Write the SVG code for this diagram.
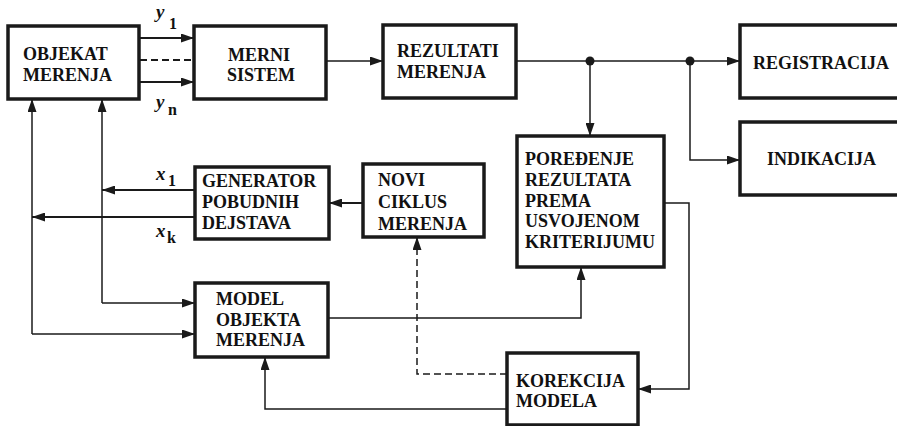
<svg xmlns="http://www.w3.org/2000/svg" width="897" height="426" viewBox="0 0 897 426">
<defs>
<style>
.box{fill:#fff;stroke:#1a1a1a;stroke-width:3.5}
.t{font-family:"Liberation Serif","Times New Roman",serif;font-weight:bold;font-size:18px;fill:#111}
.ln{fill:none;stroke:#1a1a1a;stroke-width:1.5}
.lt{fill:none;stroke:#1a1a1a;stroke-width:2}
.dash{stroke-dasharray:7 4}
.v{font-family:"Liberation Serif","Times New Roman",serif;font-style:italic;font-weight:bold;font-size:19px;fill:#111}
.s{font-family:"Liberation Serif","Times New Roman",serif;font-weight:bold;font-size:16px;fill:#111}
</style>
<marker id="ah" viewBox="0 0 13 9" refX="13" refY="4.5" markerWidth="13" markerHeight="9" markerUnits="userSpaceOnUse" orient="auto">
<path d="M0,0 L13,4.5 L0,9 Z" fill="#1a1a1a"/>
</marker>
</defs>
<rect width="897" height="426" fill="#fff"/>

<g id="connectors">
<line class="lt" x1="139" y1="38" x2="194" y2="38" marker-end="url(#ah)"/>
<line class="lt dash" x1="140" y1="60" x2="194" y2="60"/>
<line class="lt" x1="139" y1="82" x2="194" y2="82" marker-end="url(#ah)"/>
<line class="ln" x1="326" y1="61" x2="383" y2="61" marker-end="url(#ah)"/>
<line class="ln" x1="516" y1="61" x2="740" y2="61" marker-end="url(#ah)"/>
<circle cx="590" cy="61" r="4.5" fill="#1a1a1a"/>
<circle cx="690" cy="61" r="4.5" fill="#1a1a1a"/>
<line class="ln" x1="590" y1="61" x2="590" y2="136" marker-end="url(#ah)"/>
<polyline class="ln" points="690,61 690,160 740,160" marker-end="url(#ah)"/>
<polyline class="ln" points="664,203 689,203 689,389 638,389" marker-end="url(#ah)"/>
<polyline class="ln" points="507,409 265,409 265,357" marker-end="url(#ah)"/>
<polyline class="ln dash" points="507,374 417,374 417,237" marker-end="url(#ah)"/>
<line class="lt" x1="363" y1="203" x2="329" y2="203" marker-end="url(#ah)"/>
<line class="lt" x1="195" y1="190" x2="102" y2="190" marker-end="url(#ah)"/>
<line class="lt" x1="195" y1="217" x2="32" y2="217" marker-end="url(#ah)"/>
<line class="ln" x1="102" y1="303" x2="102" y2="99" marker-end="url(#ah)"/>
<line class="ln" x1="32" y1="334" x2="32" y2="99" marker-end="url(#ah)"/>
<polyline class="ln" points="102,303 195,303" marker-end="url(#ah)"/>
<polyline class="ln" points="32,334 195,334" marker-end="url(#ah)"/>
<polyline class="ln" points="328,318 581,318 581,267" marker-end="url(#ah)"/>
<text class="v" x="156" y="18">y</text><text class="s" x="169" y="29">1</text>
<text class="v" x="156" y="108">y</text><text class="s" x="168" y="115">n</text>
<text class="v" x="156" y="180">x</text><text class="s" x="168" y="186">1</text>
<text class="v" x="156" y="237">x</text><text class="s" x="167" y="243">k</text>
</g>

<g id="objekat">
<rect class="box" x="8" y="26" width="131" height="73"/>
<text class="t" x="23" y="60">OBJEKAT</text>
<text class="t" x="23" y="81">MERENJA</text>
</g>
<g id="merni">
<rect class="box" x="194" y="26" width="132" height="73"/>
<text class="t" x="259" y="61" text-anchor="middle">MERNI</text>
<text class="t" x="261" y="81" text-anchor="middle">SISTEM</text>
</g>
<g id="rezultati">
<rect class="box" x="383" y="25" width="133" height="73"/>
<text class="t" x="397" y="57">REZULTATI</text>
<text class="t" x="397" y="78">MERENJA</text>
</g>
<g id="registracija">
<rect class="box" x="740" y="25" width="170" height="73"/>
<text class="t" x="753" y="69">REGISTRACIJA</text>
</g>
<g id="indikacija">
<rect class="box" x="740" y="122" width="170" height="73"/>
<text class="t" x="767" y="165">INDIKACIJA</text>
</g>
<g id="poredjenje">
<rect class="box" x="517" y="136" width="147" height="131"/>
<text class="t" x="525" y="165">POREĐENJE</text>
<text class="t" x="525" y="186">REZULTATA</text>
<text class="t" x="525" y="207">PREMA</text>
<text class="t" x="525" y="227">USVOJENOM</text>
<text class="t" x="525" y="248">KRITERIJUMU</text>
</g>
<g id="generator">
<rect class="box" x="195" y="167" width="134" height="72"/>
<text class="t" x="202" y="187">GENERATOR</text>
<text class="t" x="202" y="208">POBUDNIH</text>
<text class="t" x="202" y="229">DEJSTAVA</text>
</g>
<g id="novi">
<rect class="box" x="363" y="164" width="121" height="73"/>
<text class="t" x="378" y="186">NOVI</text>
<text class="t" x="378" y="208">CIKLUS</text>
<text class="t" x="378" y="230">MERENJA</text>
</g>
<g id="model">
<rect class="box" x="195" y="283" width="133" height="74"/>
<text class="t" x="216" y="305">MODEL</text>
<text class="t" x="216" y="326">OBJEKTA</text>
<text class="t" x="216" y="346">MERENJA</text>
</g>
<g id="korekcija">
<rect class="box" x="507" y="353" width="131" height="72"/>
<text class="t" x="516" y="387">KOREKCIJA</text>
<text class="t" x="516" y="407">MODELA</text>
</g>
</svg>
